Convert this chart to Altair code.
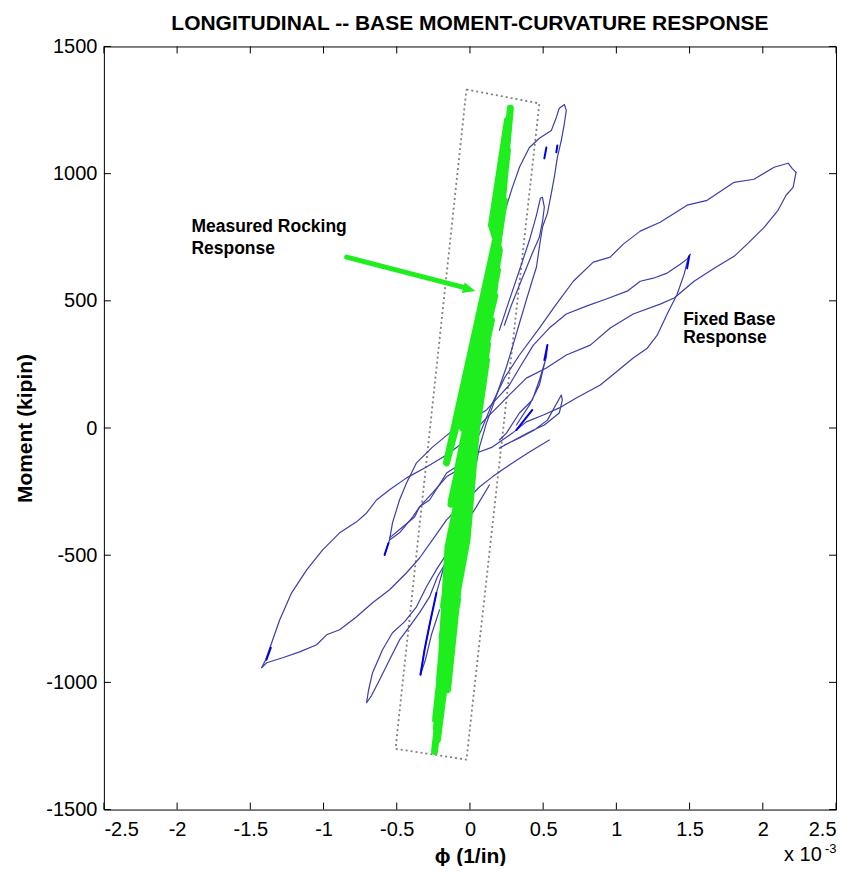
import altair as alt
import pandas as pd

# ---------------- axis ticks ----------------
x_ticks = [-2.5, -2, -1.5, -1, -0.5, 0, 0.5, 1, 1.5, 2, 2.5]
y_ticks = [-1500, -1000, -500, 0, 500, 1000, 1500]

# ---------------- fixed base (blue) branches: (phi x1e-3 1/in, moment kip-in) ----------------
big_loop_upper = [(-0.549, -440), (-0.481, -412), (-0.392, -350), (-0.344, -310), (-0.256, -255),
                  (-0.160, -192), (-0.051, -153), (0.010, -86), (0.078, -8), (0.147, 90),
                  (0.235, 196), (0.338, 287), (0.474, 393), (0.590, 487), (0.706, 577),
                  (0.842, 652), (0.958, 672), (1.047, 723), (1.163, 774), (1.299, 809),
                  (1.483, 876), (1.620, 895), (1.804, 966), (1.940, 978), (2.077, 1025),
                  (2.173, 1041), (2.200, 1021), (2.227, 1005)]
big_loop_lower = [(2.227, 1005), (2.207, 946), (2.159, 915), (2.104, 856), (2.009, 789),
                  (1.893, 723), (1.804, 675), (1.668, 628), (1.531, 577), (1.395, 511),
                  (1.299, 487), (1.115, 448), (0.958, 393), (0.822, 326), (0.658, 287),
                  (0.522, 236), (0.385, 196), (0.269, 130), (0.201, 90), (0.099, 31),
                  (-0.024, -47), (-0.160, -106), (-0.297, -153), (-0.433, -196), (-0.549, -243),
                  (-0.638, -283), (-0.706, -334), (-0.774, -369), (-0.890, -412), (-1.006, -479),
                  (-1.115, -558), (-1.218, -648), (-1.299, -754), (-1.354, -844), (-1.395, -911),
                  (-1.422, -942)]
neg_loop_lower = [(-1.422, -942), (-1.388, -923), (-1.279, -903), (-1.163, -880), (-1.047, -852),
                  (-0.979, -813), (-0.890, -793), (-0.774, -742), (-0.665, -687), (-0.549, -636),
                  (-0.433, -569), (-0.344, -511), (-0.256, -440), (-0.160, -361), (-0.072, -310),
                  (0.065, -232), (0.153, -192), (0.269, -145), (0.406, -94), (0.542, -47)]
second_loop_upper = [(-0.583, -499), (-0.549, -440), (-0.529, -373), (-0.481, -283), (-0.433, -216),
                     (-0.365, -137), (-0.256, -75), (-0.140, -20), (-0.024, 20), (0.113, 71),
                     (0.201, 126), (0.269, 169), (0.338, 236), (0.433, 326), (0.542, 393),
                     (0.658, 448), (0.795, 479), (0.931, 507), (1.074, 538), (1.163, 577),
                     (1.252, 589), (1.347, 609), (1.436, 644), (1.483, 664), (1.504, 683)]
second_loop_lower = [(1.504, 683), (1.483, 652), (1.463, 605), (1.415, 526), (1.347, 448),
                     (1.279, 365), (1.211, 314), (1.115, 275), (0.999, 220), (0.890, 169),
                     (0.726, 118), (0.610, 79), (0.501, 51), (0.385, 24), (0.290, -20),
                     (0.153, -75), (0.044, -98), (-0.051, -137), (-0.160, -177), (-0.188, -204),
                     (-0.276, -283), (-0.344, -310), (-0.378, -350), (-0.460, -389), (-0.549, -432)]
neg_small_loop = [(-0.003, -361), (-0.085, -440), (-0.153, -518), (-0.222, -585), (-0.276, -664),
                  (-0.344, -726), (-0.413, -781), (-0.481, -833), (-0.549, -911), (-0.617, -990),
                  (-0.672, -1052), (-0.706, -1080), (-0.692, -1029), (-0.665, -962), (-0.597, -872),
                  (-0.529, -805), (-0.447, -762), (-0.365, -703), (-0.297, -624), (-0.222, -550),
                  (-0.140, -479), (-0.058, -401), (0.031, -322), (0.133, -224)]
peak_loop = [(0.044, -137), (0.065, -75), (0.113, 20), (0.153, 82), (0.201, 161), (0.249, 240),
             (0.290, 318), (0.338, 412), (0.385, 503), (0.426, 581), (0.454, 632), (0.474, 711),
             (0.495, 789), (0.529, 844), (0.556, 923), (0.576, 986), (0.597, 1064), (0.624, 1131),
             (0.645, 1198), (0.658, 1249), (0.645, 1272), (0.610, 1257), (0.590, 1221),
             (0.556, 1170), (0.474, 1139), (0.406, 1103), (0.338, 1025), (0.290, 946),
             (0.256, 884), (0.222, 817), (0.181, 738), (0.133, 640), (0.085, 542)]
spike_900 = [(0.201, 385), (0.269, 503), (0.338, 620), (0.406, 738), (0.454, 836), (0.481, 903),
             (0.495, 907), (0.508, 868), (0.495, 809), (0.474, 750), (0.426, 687), (0.385, 628),
             (0.338, 562), (0.283, 483), (0.235, 404)]
spike_300 = [(0.201, -47), (0.249, -20), (0.338, 59), (0.426, 110), (0.474, 188), (0.522, 279),
             (0.529, 326), (0.515, 267), (0.474, 169), (0.406, 90), (0.317, 12)]
small_loop = [(0.235, -67), (0.338, -39), (0.440, -8), (0.529, 31), (0.624, 130), (0.631, 110),
              (0.610, 59), (0.508, 12), (0.406, -16), (0.304, -47), (0.201, -79)]
neg_spike = [(-0.072, -361), (-0.126, -459), (-0.174, -538), (-0.229, -648), (-0.276, -774),
             (-0.310, -872), (-0.338, -970), (-0.304, -911), (-0.263, -813), (-0.208, -715)]

# brighter blue pieces
bright_a = [(-0.229, -648), (-0.276, -774), (-0.310, -872), (-0.338, -970)]
bright_b = [(-1.360, -864), (-1.390, -911)]
bright_c = [(-0.583, -499), (-0.556, -452)]
bright_d = [(0.522, 1103), (0.508, 1060)]
bright_e = [(0.597, 1111), (0.590, 1084)]
bright_f = [(0.529, 326), (0.508, 267)]
bright_g = [(0.426, 71), (0.317, -8)]
bright_h = [(1.497, 675), (1.483, 628)]

# ---------------- measured rocking response (green) ----------------
rocking = [(-0.242, -1272), (-0.126, -675), (-0.208, -1068), (-0.058, -361), (-0.174, -833),
           (-0.003, -165), (-0.153, -636), (0.051, 31), (-0.140, -440), (0.099, 228),
           (-0.126, -283), (0.147, 424), (-0.085, -165), (0.188, 620), (-0.160, -137),
           (0.235, 895), (0.051, 188), (0.256, 1092), (0.119, 385), (0.276, 1257),
           (0.181, 660), (0.235, 974), (-0.003, 31), (0.133, 581), (-0.174, -754),
           (-0.072, -283), (-0.235, -1147), (-0.106, -518), (-0.153, -1029), (0.031, -8),
           (-0.194, -911), (-0.031, -361), (-0.222, -1225), (-0.106, -636), (0.065, 110),
           (-0.160, -833), (0.113, 267), (-0.031, -106), (0.201, 699), (0.147, 797),
           (0.256, 1210), (0.215, 856), (0.085, 463), (0.153, 503), (-0.106, -361),
           (-0.208, -990), (-0.140, -560), (0.010, 60), (-0.120, -420), (0.090, 330),
           (-0.050, -220), (0.170, 560), (0.060, 240), (0.225, 940), (0.130, 470),
           (-0.020, -70), (-0.180, -700), (-0.090, -330), (-0.215, -1100), (-0.170, -880),
           (-0.060, -250), (0.030, 130), (-0.200, -960), (-0.150, -470), (0.080, 170),
           (-0.040, -300), (0.120, 330), (0.000, -40), (0.190, 700), (0.100, 420),
           (-0.110, -470), (-0.010, -180), (-0.190, -820), (-0.120, -580), (0.045, 385),
           (0.200, 700), (0.000, 190), (0.170, 520), (-0.050, 0), (0.110, 300),
           (-0.130, -300), (0.060, 100), (-0.020, -440), (-0.200, -1000), (-0.085, -675),
           (-0.230, -1180), (-0.140, -910)]

# dotted envelope
envelope = [(-0.024, 1331), (0.474, 1276), (-0.024, -1304), (-0.508, -1261), (-0.024, 1331)]

# arrow
arrow_shaft = [(-0.842, 672), (-0.030, 551)]
arrow_head = [(-0.004, 545)]

# annotations
notes_text = ["Measured Rocking", " Response", "Fixed Base", "Response"]
notes_x = [-1.902, -1.902, 1.456, 1.456]
notes_y = [771, 686, 405, 334]


def frame(segs):
    rows = []
    for name, pts in segs.items():
        for i, (x, y) in enumerate(pts):
            rows.append({"seg": name, "i": i, "x": x, "y": y})
    return pd.DataFrame(rows)


blue_df = frame({"a": big_loop_upper, "b": big_loop_lower, "c": neg_loop_lower,
                 "d": second_loop_upper, "e": second_loop_lower, "f": neg_small_loop,
                 "g": peak_loop, "h": spike_900, "k": spike_300, "l": small_loop,
                 "m": neg_spike})
bright_df = frame({"a": bright_a, "b": bright_b, "c": bright_c, "d": bright_d,
                   "e": bright_e, "f": bright_f, "g": bright_g, "h": bright_h})
green_df = frame({"r": rocking})
env_df = frame({"env": envelope})
shaft_df = frame({"s": arrow_shaft})
head_df = frame({"h": arrow_head})
notes_df = pd.DataFrame({"t": notes_text, "x": notes_x, "y": notes_y})
xt_df = pd.DataFrame({"x": x_ticks})
yt_df = pd.DataFrame({"y": y_ticks})

W, H = 733, 764
FONT = "Liberation Sans"
xs = alt.Scale(domain=[-2.5, 2.5], nice=False, zero=False)
ys = alt.Scale(domain=[-1500, 1500], nice=False, zero=False)
X = alt.X("x:Q", scale=xs, axis=alt.Axis(values=x_ticks, title="\u03d5 (1/in)",
                                          labelExpr="datum.value + ''", labelPadding=10,
                                          titlePadding=6))
Y = alt.Y("y:Q", scale=ys, axis=alt.Axis(values=y_ticks, title="Moment (kipin)",
                                          labelExpr="datum.value + ''", labelPadding=7,
                                          titlePadding=10))


def lines(df, color, width, dash=None):
    kw = dict(color=color, strokeWidth=width, strokeJoin="round", strokeCap="round")
    if dash:
        kw["strokeDash"] = dash
        kw["strokeCap"] = "butt"
    return alt.Chart(df).mark_line(**kw).encode(x=X, y=Y, detail="seg:N", order="i:Q")


env = lines(env_df, "#808080", 1.8, [2, 3])
blue = lines(blue_df, "#3d3dab", 1.2)
bright = lines(bright_df, "#0000e6", 2)
green = lines(green_df, "#1eee1e", 7)
shaft = lines(shaft_df, "#1eee1e", 5)
head = alt.Chart(head_df).mark_point(
    shape="M -1 -0.85 L 1 0 L -1 0.85 Z", size=160, angle=15, filled=True,
    color="#1eee1e", opacity=1).encode(x=X, y=Y)

notes = alt.Chart(notes_df).mark_text(
    font=FONT, fontSize=17.5, fontWeight="bold", align="left", baseline="alphabetic",
    color="black").encode(x=X, y=Y, text="t:N")

tick_len = 7
xt_bot = alt.Chart(xt_df).mark_rule(color="black", strokeWidth=1).encode(
    x=X, y=alt.value(H), y2=alt.value(H - tick_len))
xt_top = alt.Chart(xt_df).mark_rule(color="black", strokeWidth=1).encode(
    x=X, y=alt.value(0), y2=alt.value(tick_len))
yt_left = alt.Chart(yt_df).mark_rule(color="black", strokeWidth=1).encode(
    y=Y, x=alt.value(0), x2=alt.value(tick_len))
yt_right = alt.Chart(yt_df).mark_rule(color="black", strokeWidth=1).encode(
    y=Y, x=alt.value(W), x2=alt.value(W - tick_len))

exp_main = alt.Chart(pd.DataFrame({"t": ["x 10"]})).mark_text(
    font=FONT, fontSize=20, align="left", baseline="alphabetic", color="black").encode(
    x=alt.value(681), y=alt.value(816), text="t:N")
exp_sup = alt.Chart(pd.DataFrame({"t": ["-3"]})).mark_text(
    font=FONT, fontSize=13, align="left", baseline="alphabetic", color="black").encode(
    x=alt.value(722), y=alt.value(807), text="t:N")

chart = alt.layer(
    env, blue, bright, green, shaft, head, notes,
    xt_bot, xt_top, yt_left, yt_right, exp_main, exp_sup
).properties(
    width=W, height=H,
    title=alt.TitleParams("LONGITUDINAL -- BASE MOMENT-CURVATURE RESPONSE", font=FONT,
                          fontSize=21, fontWeight="bold", anchor="middle", offset=2,
                          color="black"),
    autosize=alt.AutoSizeParams(type="none"),
    padding={"left": 96, "top": 38, "right": 10, "bottom": 56},
).configure_view(
    stroke="black", strokeWidth=1
).configure_axis(
    labelFont=FONT, labelFontSize=20, labelColor="black",
    titleFont=FONT, titleFontSize=21, titleFontWeight="bold", titleColor="black",
    grid=False, domain=False, ticks=False
)

chart.save("out.html", embed_options={"renderer": "svg", "actions": False})
